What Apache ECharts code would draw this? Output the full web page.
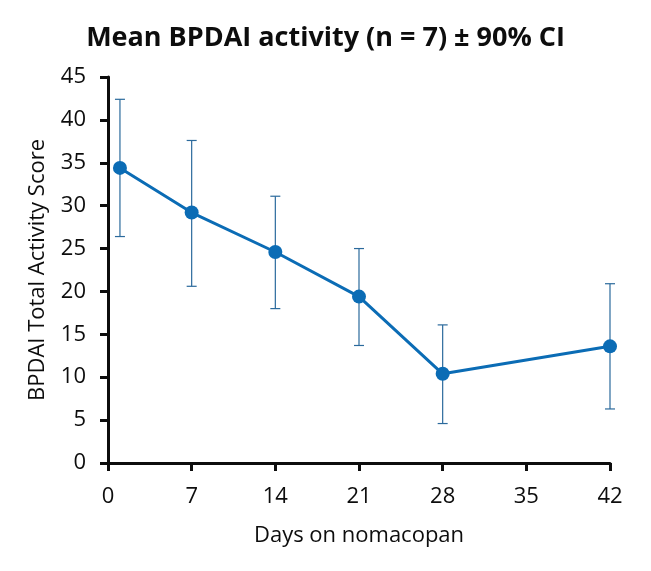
<!DOCTYPE html>
<html>
<head>
<meta charset="utf-8">
<script src="https://cdn.jsdelivr.net/npm/echarts@6/dist/echarts.min.js"></script>
<style>
  html, body { margin: 0; padding: 0; background: #fff; }
  #chart { width: 651px; height: 571px; }
</style>
</head>
<body>
<div id="chart"></div>
<script>
// values
const days = [1, 7, 14, 21, 28, 42]
const meanScore = [34.4, 29.2, 24.6, 19.4, 10.4, 13.6]
const ciLow = [26.4, 20.6, 18.0, 13.7, 4.6, 6.3]
const ciHigh = [42.4, 37.6, 31.1, 25.0, 16.1, 20.9]

const font = 'Open Sans'
const axisColor = '#0d0d0d'

var chart = echarts.init(document.getElementById('chart'))

const option = {
  animation: false,
  title: {
    text: 'Mean BPDAI activity (n = 7) ± 90% CI',
    left: 'center',
    top: 20,
    textStyle: { fontFamily: font, fontSize: 27, fontWeight: 'bold', color: '#0d0d0d' }
  },
  grid: { left: 108, right: 41, top: 77, bottom: 108 },
  xAxis: {
    type: 'value',
    min: 0,
    max: 42,
    interval: 7,
    name: 'Days on nomacopan',
    nameLocation: 'middle',
    nameGap: 62,
    nameTextStyle: { fontFamily: font, fontSize: 22, color: '#0d0d0d' },
    axisLine: { show: true, lineStyle: { color: axisColor, width: 3 } },
    axisTick: { show: true, length: 8, lineStyle: { color: axisColor, width: 3 } },
    axisLabel: { fontFamily: font, fontSize: 22, color: '#0d0d0d', margin: 23 },
    splitLine: { show: false }
  },
  yAxis: {
    type: 'value',
    min: 0,
    max: 45,
    interval: 5,
    name: 'BPDAI Total Activity Score',
    nameLocation: 'middle',
    nameGap: 59,
    nameTextStyle: { fontFamily: font, fontSize: 22, color: '#0d0d0d' },
    axisLine: { show: true, lineStyle: { color: axisColor, width: 3 } },
    axisTick: { show: true, length: 8, lineStyle: { color: axisColor, width: 3 } },
    axisLabel: { fontFamily: font, fontSize: 22, color: '#0d0d0d', margin: 22 },
    splitLine: { show: false }
  },
  series: [
    {
      name: 'CI',
      type: 'custom',
      z: 1,
      data: days.map((d, i) => [d, ciLow[i], ciHigh[i]]),
      renderItem: (params, api) => {
        const lo = api.coord([api.value(0), api.value(1)])
        const hi = api.coord([api.value(0), api.value(2)])
        const cap = 5
        const style = { stroke: '#2b6a9c', lineWidth: 1.2 }
        return {
          type: 'group',
          children: [
            { type: 'line', shape: { x1: lo[0], y1: lo[1], x2: hi[0], y2: hi[1] }, style },
            { type: 'line', shape: { x1: hi[0] - cap, y1: hi[1], x2: hi[0] + cap, y2: hi[1] }, style },
            { type: 'line', shape: { x1: lo[0] - cap, y1: lo[1], x2: lo[0] + cap, y2: lo[1] }, style }
          ]
        }
      }
    },
    {
      name: 'Mean',
      type: 'line',
      z: 2,
      data: days.map((d, i) => [d, meanScore[i]]),
      symbol: 'circle',
      symbolSize: 14,
      lineStyle: { color: '#0b6cb5', width: 3 },
      itemStyle: { color: '#0b6cb5' }
    }
  ]
}

option && chart.setOption(option)
</script>
</body>
</html>
